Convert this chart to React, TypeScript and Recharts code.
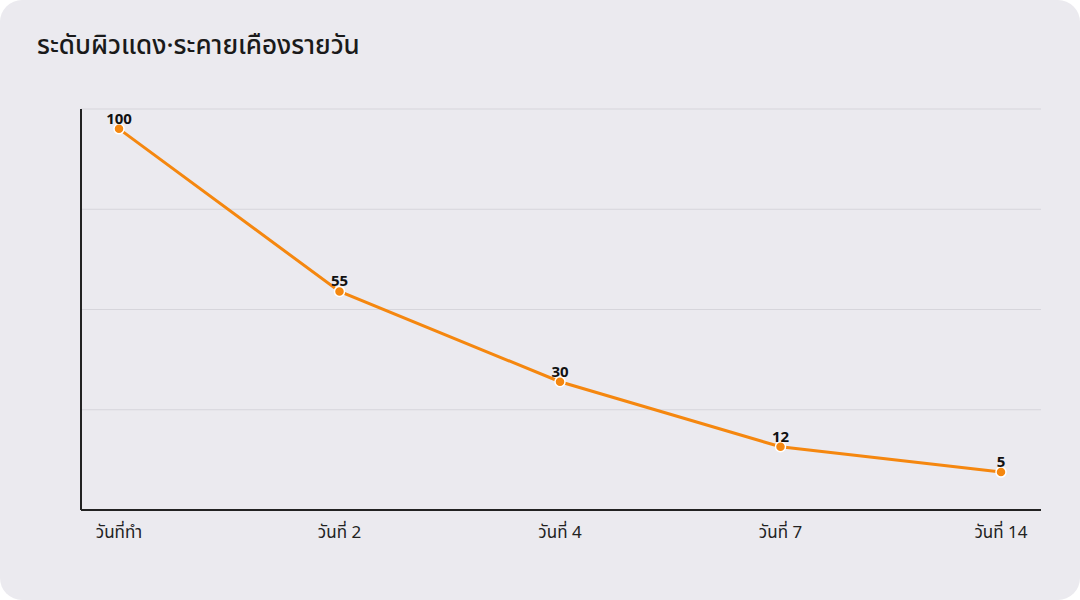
import React from 'react';
import { LineChart, Line, XAxis, YAxis, CartesianGrid, LabelList } from 'recharts';

const categories = ['วันที่ทำ', 'วันที่ 2', 'วันที่ 4', 'วันที่ 7', 'วันที่ 14'];
const values = [100, 55, 30, 12, 5];
const yTicks = [-5.5, 22.25, 50, 77.75, 105.5];
const title = 'ระดับผิวแดง·ระคายเคืองรายวัน';

const data = categories.map((c, i) => ({ day: c, value: values[i] }));

const FONT = '"Noto Sans", "Noto Sans Thai", Lato, sans-serif';

export default function App() {
  return (
    <div style={{ position: 'fixed', left: 0, top: 0, width: 1080, height: 600, background: '#ffffff', fontFamily: FONT }}>
      <div style={{ position: 'absolute', left: 0, top: 0, width: 1080, height: 600, background: '#ebeaef', borderRadius: 22 }} />
      <div style={{ position: 'absolute', left: 37, top: 26, fontSize: 26, fontWeight: 500, color: '#1a1a1a', letterSpacing: 0 }}>{title}</div>
      <div style={{ position: 'absolute', left: 0, top: 0 }}>
        <LineChart width={1080} height={600} data={data} margin={{ top: 109, right: 39, bottom: 60, left: 80 }}>
          <CartesianGrid vertical={false} stroke="#d6d5db" strokeWidth={1} />
          <XAxis
            dataKey="day"
            height={30}
            padding={{ left: 38, right: 40 }}
            tickLine={false}
            axisLine={{ stroke: '#222222', strokeWidth: 2 }}
            tick={{ fontSize: 17, fill: '#222222', fontFamily: FONT }}
            tickMargin={10}
            interval={0}
          />
          <YAxis
            width={1}
            domain={[-5.5, 105.5]}
            ticks={yTicks}
            interval={0}
            tickFormatter={() => ''}
            tickLine={false}
            axisLine={{ stroke: '#222222', strokeWidth: 2 }}
          />
          <Line
            type="linear"
            dataKey="value"
            stroke="#f5870f"
            strokeWidth={3}
            dot={{ r: 5, fill: '#f5870f', stroke: '#ffffff', strokeWidth: 1.5 }}
            activeDot={false}
            isAnimationActive={false}
          >
            <LabelList dataKey="value" position="top" offset={5} style={{ fontSize: 15, fontWeight: 700, fill: '#111111', fontFamily: FONT }} />
          </Line>
        </LineChart>
      </div>
    </div>
  );
}
